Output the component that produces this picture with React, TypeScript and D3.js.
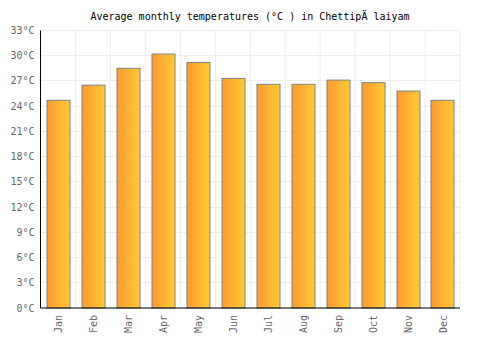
import { useEffect, useRef } from 'react'
import * as d3 from 'd3'

const months = ['Jan', 'Feb', 'Mar', 'Apr', 'May', 'Jun', 'Jul', 'Aug', 'Sep', 'Oct', 'Nov', 'Dec']
const temps = [24.7, 26.5, 28.5, 30.2, 29.2, 27.3, 26.6, 26.6, 27.1, 26.8, 25.8, 24.7]
const yTicks = [0, 3, 6, 9, 12, 15, 18, 21, 24, 27, 30, 33]
const title = 'Average monthly temperatures (°C ) in ChettipÄ laiyam'

export default function App() {
  const svgRef = useRef<SVGSVGElement>(null)

  useEffect(() => {
    if (!svgRef.current) return
    const svg = d3.select(svgRef.current)
    svg.selectAll('*').remove()

    const margin = { top: 30.5, right: 40, bottom: 42, left: 40.5 }
    const width = 500 - margin.left - margin.right
    const height = 350 - margin.top - margin.bottom
    const font = '"DejaVu Sans Mono", monospace'

    const defs = svg.append('defs')
    const grad = defs.append('linearGradient')
      .attr('id', 'barGrad')
      .attr('x1', '0%').attr('x2', '100%')
      .attr('y1', '0%').attr('y2', '0%')
    grad.append('stop').attr('offset', '0%').attr('stop-color', '#ff9a30')
    grad.append('stop').attr('offset', '100%').attr('stop-color', '#ffcb33')

    const g = svg.append('g').attr('transform', `translate(${margin.left},${margin.top})`)

    const x = d3.scaleBand().domain(months).range([0, width]).paddingInner(0.34).paddingOuter(0.17)
    const xStep = d3.scaleBand().domain(months).range([0, width])
    const y = d3.scaleLinear().domain([0, 33]).range([height, 0])

    // grid
    g.append('g').selectAll('line')
      .data(yTicks)
      .enter().append('line')
      .attr('x1', 0).attr('x2', width)
      .attr('y1', d => Math.round(y(d)))
      .attr('y2', d => Math.round(y(d)))
      .attr('stroke', '#eeeeee')
    g.append('g').selectAll('line')
      .data(months)
      .enter().append('line')
      .attr('x1', d => (xStep(d) || 0) + xStep.bandwidth())
      .attr('x2', d => (xStep(d) || 0) + xStep.bandwidth())
      .attr('y1', 0).attr('y2', height)
      .attr('stroke', '#eeeeee')

    // bars
    g.selectAll('rect.bar')
      .data(temps)
      .enter().append('rect')
      .attr('class', 'bar')
      .attr('x', (d, i) => Math.round(x(months[i]) || 0) + 0.5)
      .attr('width', Math.round(x.bandwidth()))
      .attr('y', d => y(d))
      .attr('height', d => height - y(d))
      .attr('fill', 'url(#barGrad)')
      .attr('stroke', '#808080')
      .attr('stroke-width', 1)

    // axes
    g.append('line')
      .attr('x1', 0).attr('x2', 0).attr('y1', 0).attr('y2', height)
      .attr('stroke', '#000')
    g.append('line')
      .attr('x1', 0).attr('x2', width).attr('y1', height).attr('y2', height)
      .attr('stroke', '#000')

    g.append('g').selectAll('text')
      .data(yTicks)
      .enter().append('text')
      .attr('x', -6)
      .attr('y', d => y(d))
      .attr('dy', '0.35em')
      .attr('text-anchor', 'end')
      .style('font-family', font)
      .style('font-size', '10px')
      .style('fill', '#666')
      .text(d => `${d}°C`)

    g.append('g').selectAll('text')
      .data(months)
      .enter().append('text')
      .attr('transform', d => `translate(${(x(d) || 0) + x.bandwidth() / 2 + 1},${height + 7}) rotate(-90)`)
      .attr('dy', '0.35em')
      .attr('text-anchor', 'end')
      .style('font-family', font)
      .style('font-size', '10px')
      .style('fill', '#666')
      .text(d => d)

    svg.append('text')
      .attr('x', 250)
      .attr('y', 20)
      .attr('text-anchor', 'middle')
      .style('font-family', font)
      .style('font-size', '10px')
      .style('fill', '#000')
      .text(title)
  }, [])

  return (
    <svg ref={svgRef} width={500} height={350} style={{ position: 'absolute', left: 0, top: 0 }}></svg>
  )
}
